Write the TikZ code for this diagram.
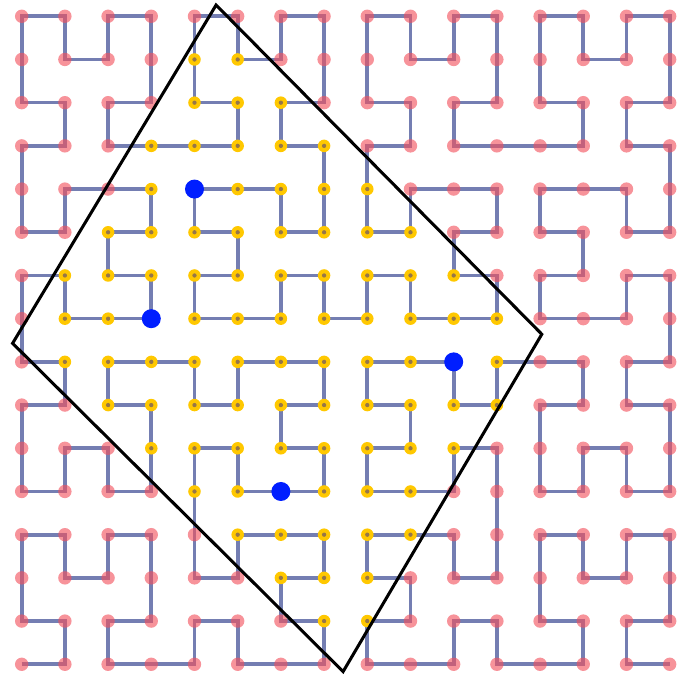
\documentclass[tikz,border=0pt]{standalone}
\definecolor{curvecol}{RGB}{116,126,178}
\definecolor{reddot}{RGB}{242,80,92}
\definecolor{yeldot}{RGB}{255,200,0}
\definecolor{yelcore}{RGB}{150,118,72}
\definecolor{bluedot}{RGB}{0,30,255}
\newcommand\markyel[2]{\foreach \c in {#2}{\expandafter\gdef\csname yel-\c-#1\endcsname{}}}
\newcommand\markblu[2]{\expandafter\gdef\csname blu-#1-#2\endcsname{}}
\markyel{14}{4,5}
\markyel{13}{4,5,6}
\markyel{12}{3,4,5,6,7}
\markyel{11}{3,5,6,7,8}
\markyel{10}{2,3,4,5,6,7,8,9}
\markyel{9}{1,2,3,4,5,6,7,8,9,10}
\markyel{8}{1,2,4,5,6,7,8,9,10,11}
\markyel{7}{1,2,3,4,5,6,7,8,9,11}
\markyel{6}{2,3,4,5,6,7,8,9,10,11}
\markyel{5}{3,4,5,6,7,8,9,10}
\markyel{4}{4,5,7,8,9}
\markyel{3}{5,6,7,8,9}
\markyel{2}{6,7,8}
\markyel{1}{7,8}
\markblu{4}{11}
\markblu{3}{8}
\markblu{10}{7}
\markblu{6}{4}
% Hilbert curve d -> (x,y), n = 16
\newcount\hx \newcount\hy \newcount\hT \newcount\hrx \newcount\hry
\newcount\htmp \newcount\hs \newcount\hbit
\newcommand\hilbertpt[1]{%
  \hT=#1\relax \hx=0 \hy=0 \hs=1
  \loop
    \htmp=\hT \divide\htmp by 2
    \hrx=\htmp \divide\hrx by 2 \multiply\hrx by 2
    \hrx=-\hrx \advance\hrx by \htmp
    \hbit=\hT \divide\hbit by 2 \multiply\hbit by 2
    \hbit=-\hbit \advance\hbit by \hT
    \ifnum\hbit=\hrx \hry=0 \else \hry=1 \fi
    \ifnum\hry=0
      \ifnum\hrx=1
        \htmp=\hs \advance\htmp by -1 \advance\htmp by -\hx \hx=\htmp
        \htmp=\hs \advance\htmp by -1 \advance\htmp by -\hy \hy=\htmp
      \fi
      \htmp=\hx \hx=\hy \hy=\htmp
    \fi
    \htmp=\hs \multiply\htmp by \hrx \advance\hx by \htmp
    \htmp=\hs \multiply\htmp by \hry \advance\hy by \htmp
    \divide\hT by 4
    \multiply\hs by 2
  \ifnum\hs<16 \repeat
}
\gdef\hpath{(0,0)}
\foreach \d in {1,...,255}{%
  \hilbertpt{\d}%
  \xdef\hpath{\hpath -- (\the\hx,\the\hy)}%
}
\begin{document}
\begin{tikzpicture}[x=1cm,y=1cm,
  curve/.style={draw=curvecol, line width=2.4pt, line join=miter},
  reddotstyle/.style={fill=reddot, fill opacity=0.62},
  yelstyle/.style={fill=yeldot},
  corestyle/.style={fill=yelcore},
  blustyle/.style={fill=bluedot},
  frame/.style={draw=black, line width=2pt, line join=miter}]
\useasboundingbox (-0.502,-0.248) rectangle (15.447,15.377);
\draw[curve] \hpath;
\foreach \x in {0,...,15}{
  \foreach \y in {0,...,15}{
    \ifcsname yel-\x-\y\endcsname
      \fill[yelstyle] (\x,\y) circle (0.145);
      \fill[corestyle] (\x,\y) circle (0.05);
    \else
      \ifcsname blu-\x-\y\endcsname
        \fill[blustyle] (\x,\y) circle (0.22);
      \else
        \fill[reddotstyle] (\x,\y) circle (0.155);
      \fi
    \fi
  }
}
\coordinate (T) at (4.50,15.26);
\coordinate (R) at (12.04,7.64);
\coordinate (B) at (7.44,-0.17);
\coordinate (Lc) at (-0.21,7.43);
\draw[frame] (T) -- (R) -- (B) -- (Lc) -- cycle;
\end{tikzpicture}
\end{document}
